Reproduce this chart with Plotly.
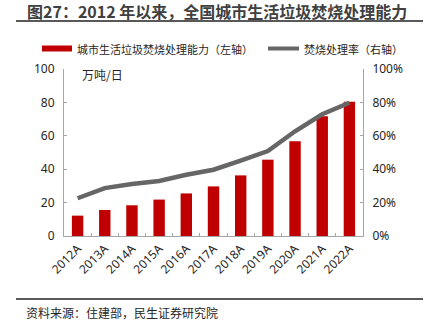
import plotly.graph_objects as go

years = ["2012A", "2013A", "2014A", "2015A", "2016A", "2017A", "2018A", "2019A", "2020A", "2021A", "2022A"]
capacity = [12.2, 15.6, 18.4, 21.8, 25.5, 29.7, 36.3, 45.7, 56.7, 71.7, 80.4]  # 万吨/日
rate = [22.6, 28.7, 31.1, 32.9, 36.7, 39.7, 45.1, 50.9, 62.7, 72.9, 79.8]  # %
left_ticks = [0, 20, 40, 60, 80, 100]
right_ticks = [0, 20, 40, 60, 80, 100]
right_labels = ["0%", "20%", "40%", "60%", "80%", "100%"]

FONT = "Noto Sans CJK SC, Microsoft YaHei, sans-serif"
NUMFONT = "Noto Sans, Open Sans, sans-serif"
RED = "#C00000"
GRAY = "#666666"
AX = "#A6A6A6"

W, H = 437, 327
L, R, T, B = 64, 363, 69, 236


def px(x):
    return (x - L) / (R - L)


def py(y):
    return (B - y) / (B - T)


fig = go.Figure()
fig.add_trace(go.Bar(x=years, y=capacity, marker=dict(color=RED, line=dict(width=0)),
                     name="城市生活垃圾焚烧处理能力（左轴）", showlegend=False))
fig.add_trace(go.Scatter(x=years, y=rate, yaxis="y2", mode="lines",
                         line=dict(color=GRAY, width=4.5),
                         name="焚烧处理率（右轴）", showlegend=False))

shapes = [
    dict(type="line", xref="paper", yref="paper", x0=px(16), x1=px(423), y0=py(21), y1=py(21),
         line=dict(color="#595959", width=2)),
    dict(type="line", xref="paper", yref="paper", x0=px(16), x1=px(423), y0=py(299), y1=py(299),
         line=dict(color="#595959", width=2)),
    dict(type="rect", xref="paper", yref="paper", x0=px(42), x1=px(72), y0=py(51.5), y1=py(45.5),
         fillcolor=RED, line=dict(width=0)),
    dict(type="line", xref="paper", yref="paper", x0=px(268), x1=px(299), y0=py(48.5), y1=py(48.5),
         line=dict(color=GRAY, width=4)),
]

annotations = [
    dict(text="<b>图27：2012 年以来，全国城市生活垃圾焚烧处理能力</b>", xref="paper", yref="paper",
         x=px(25), y=py(11), xanchor="left", yanchor="middle", showarrow=False,
         font=dict(family=FONT, size=16, color="#404040")),
    dict(text="城市生活垃圾焚烧处理能力（左轴）", xref="paper", yref="paper",
         x=px(75), y=py(48.5), xanchor="left", yanchor="middle", showarrow=False,
         font=dict(family=FONT, size=11, color="#262626")),
    dict(text="焚烧处理率（右轴）", xref="paper", yref="paper",
         x=px(302), y=py(48.5), xanchor="left", yanchor="middle", showarrow=False,
         font=dict(family=FONT, size=11, color="#262626")),
    dict(text="万吨/日", xref="paper", yref="paper",
         x=px(80), y=py(75), xanchor="left", yanchor="middle", showarrow=False,
         font=dict(family=FONT, size=12, color="#262626")),
    dict(text="资料来源：住建部，民生证券研究院", xref="paper", yref="paper",
         x=px(24), y=py(312), xanchor="left", yanchor="middle", showarrow=False,
         font=dict(family=FONT, size=12, color="#262626")),
]

fig.update_layout(
    width=W, height=H,
    margin=dict(l=L, r=W - R, t=T, b=H - B, pad=0),
    paper_bgcolor="white", plot_bgcolor="white",
    bargap=0.58,
    showlegend=False,
    font=dict(family=FONT, size=12, color="#262626"),
    xaxis=dict(
        type="category", showline=True, linecolor=AX, linewidth=1,
        ticks="inside", ticklen=3, tickcolor=AX, tickson="boundaries",
        tickangle=-45, showgrid=False, zeroline=False,
        tickfont=dict(family=NUMFONT, size=12, color="#262626"),
    ),
    yaxis=dict(
        range=[0, 100], tickmode="array", tickvals=left_ticks,
        showline=True, linecolor=AX, linewidth=1, ticks="inside", ticklen=3, tickcolor=AX,
        showgrid=False, zeroline=False,
        tickfont=dict(family=NUMFONT, size=12, color="#262626"),
        ticklabelstandoff=6,
    ),
    yaxis2=dict(
        range=[0, 100], tickmode="array", tickvals=right_ticks, ticktext=right_labels,
        overlaying="y", side="right",
        showline=True, linecolor=AX, linewidth=1, ticks="inside", ticklen=3, tickcolor=AX,
        showgrid=False, zeroline=False,
        tickfont=dict(family=NUMFONT, size=12, color="#262626"),
        ticklabelstandoff=6,
    ),
    shapes=shapes,
    annotations=annotations,
)

fig.write_html("out.html")
